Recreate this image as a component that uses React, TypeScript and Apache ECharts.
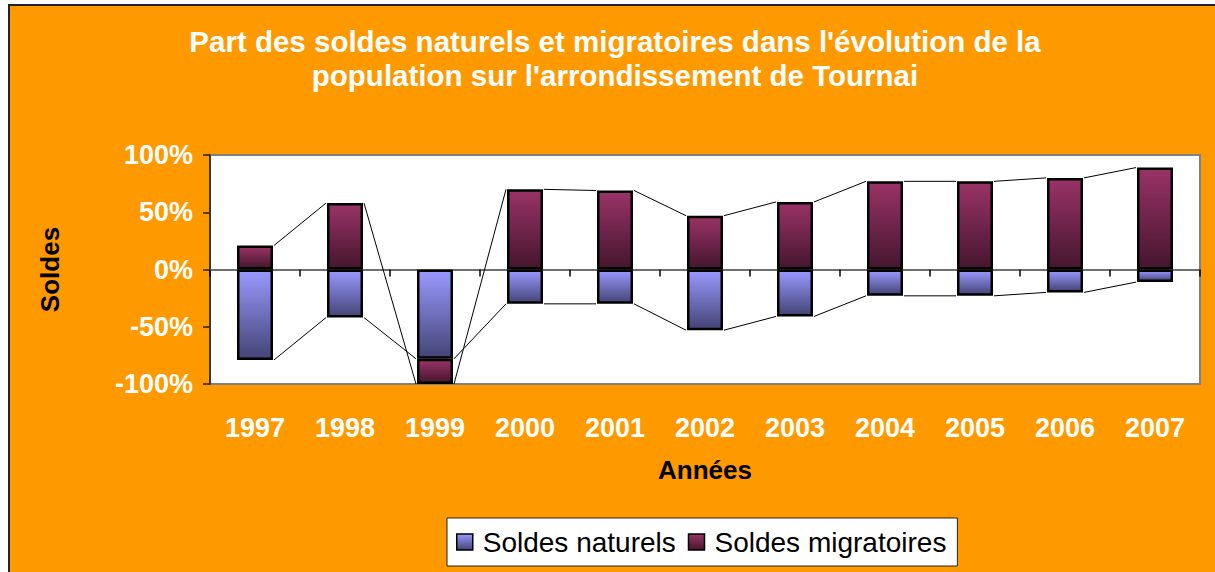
import React, { useEffect, useRef } from "react";
import * as echarts from "echarts";

const years = ["1997", "1998", "1999", "2000", "2001", "2002", "2003", "2004", "2005", "2006", "2007"];
const naturels = [-79, -42, -78, -30, -30, -53, -41, -23, -23, -20, -11];
const migratoires = [21, 58, -22, 70, 69, 47, 59, 77, 77, 80, 89];
const yTicks = { min: -100, max: 100, interval: 50 };

const FONT = "'Liberation Sans', Arial, sans-serif";
const BAR_W = 36;

function grad(top: string, bottom: string) {
  return new echarts.graphic.LinearGradient(0, 0, 0, 1, [
    { offset: 0, color: top },
    { offset: 1, color: bottom },
  ]);
}

export default function App() {
  const ref = useRef<HTMLDivElement>(null);
  useEffect(() => {
    if (!ref.current) return;
    const chart = echarts.init(ref.current, undefined, { renderer: "svg" });

    // end of each stacked segment, for the series lines
    const natEnd = naturels.slice();
    const migEnd = migratoires.map((m, i) =>
      Math.sign(m) === Math.sign(naturels[i]) ? m + naturels[i] : m
    );
    const pairs = (ends: number[]) =>
      ends.slice(0, -1).map((v, i) => [i, v, ends[i + 1]]);

    const seriesLine = (name: string, ends: number[]) => ({
      type: "custom",
      name,
      xAxisIndex: 0,
      yAxisIndex: 0,
      z: 1,
      silent: true,
      data: pairs(ends),
      renderItem: (params: any, api: any) => {
        const i = api.value(0);
        const p1 = api.coord([i, api.value(1)]);
        const p2 = api.coord([i + 1, api.value(2)]);
        const h = BAR_W / 2 + 1;
        return {
          type: "line",
          shape: { x1: p1[0] + h, y1: p1[1], x2: p2[0] - h, y2: p2[1] },
          style: { stroke: "#000", lineWidth: 1 },
        };
      },
    });

    chart.setOption({
      animation: false,
      backgroundColor: "#fff",
      textStyle: { fontFamily: FONT },
      graphic: [
        {
          type: "rect",
          z: -10,
          silent: true,
          shape: { x: 8, y: 4, width: 1215, height: 572 },
          style: { fill: "#FF9900" },
        },
        {
          type: "line",
          z: -9,
          silent: true,
          shape: { x1: 8, y1: 5, x2: 1215, y2: 5 },
          style: { stroke: "#222", lineWidth: 2 },
        },
        {
          type: "line",
          z: -9,
          silent: true,
          shape: { x1: 9, y1: 4, x2: 9, y2: 572 },
          style: { stroke: "#222", lineWidth: 2 },
        },
      ],
      title: {
        text: "Part des soldes naturels et migratoires dans l'évolution de la\npopulation sur l'arrondissement de Tournai",
        left: 610,
        top: 19,
        textAlign: "center",
        textStyle: {
          color: "#fff",
          fontSize: 29.5,
          fontWeight: "bold",
          fontFamily: FONT,
          lineHeight: 34.5,
        },
      },
      legend: {
        data: ["Soldes naturels", "Soldes migratoires"],
        left: 447,
        top: 518,
        orient: "horizontal",
        backgroundColor: "#fff",
        borderColor: "#222",
        borderWidth: 1,
        padding: [10, 11, 10, 9],
        itemWidth: 16,
        itemHeight: 16,
        itemGap: 12,
        icon: "rect",
        itemStyle: { borderColor: "#000", borderWidth: 1.5 },
        textStyle: { fontSize: 28, color: "#000", fontFamily: FONT, padding: [0, 0, 0, 5] },
      },
      grid: {
        left: 210,
        right: 15,
        top: 155,
        bottom: 188,
        show: true,
        backgroundColor: "#fff",
        borderColor: "#808080",
        borderWidth: 2,
        containLabel: false,
      },
      xAxis: [
        {
          type: "category",
          data: years,
          position: "bottom",
          axisLine: { show: false, onZero: false },
          axisTick: { show: false },
          axisLabel: {
            color: "#fff",
            fontSize: 27,
            fontWeight: "bold",
            fontFamily: FONT,
            margin: 30,
            interval: 0,
          },
          name: "Années",
          nameLocation: "middle",
          nameGap: 73,
          nameTextStyle: { color: "#000", fontSize: 26, fontWeight: "bold", fontFamily: FONT },
        },
        {
          type: "category",
          data: years,
          position: "bottom",
          axisLine: { show: true, onZero: true, onZeroAxisIndex: 0, lineStyle: { color: "#707070", width: 2 } },
          axisTick: { show: true, length: 7, lineStyle: { color: "#000", width: 1.5 } },
          axisLabel: { show: false },
        },
      ],
      yAxis: {
        type: "value",
        min: yTicks.min,
        max: yTicks.max,
        interval: yTicks.interval,
        axisLine: { show: true, lineStyle: { color: "#222", width: 1.5 } },
        axisTick: { show: true, length: 7, lineStyle: { color: "#222", width: 1.5 } },
        splitLine: { show: false },
        axisLabel: {
          formatter: "{value}%",
          color: "#fff",
          fontSize: 27,
          fontWeight: "bold",
          fontFamily: FONT,
          margin: 17,
        },
        name: "Soldes",
        nameLocation: "middle",
        nameRotate: 90,
        nameGap: 147,
        nameTextStyle: { color: "#000", fontSize: 26, fontWeight: "bold", fontFamily: FONT },
      },
      series: [
        seriesLine("lineNat", natEnd),
        seriesLine("lineMig", migEnd),
        {
          name: "Soldes naturels",
          type: "bar",
          stack: "total",
          barWidth: BAR_W,
          z: 3,
          data: naturels,
          itemStyle: { color: grad("#9999FF", "#444476"), borderColor: "#000", borderWidth: 2.5 },
        },
        {
          name: "Soldes migratoires",
          type: "bar",
          stack: "total",
          barWidth: BAR_W,
          z: 3,
          data: migratoires,
          itemStyle: { color: grad("#993366", "#45162E"), borderColor: "#000", borderWidth: 2.5 },
        },
      ],
    });
    return () => chart.dispose();
  }, []);
  return (
    <div
      ref={ref}
      style={{ position: "absolute", left: 0, top: 0, width: 1215, height: 572 }}
    />
  );
}
